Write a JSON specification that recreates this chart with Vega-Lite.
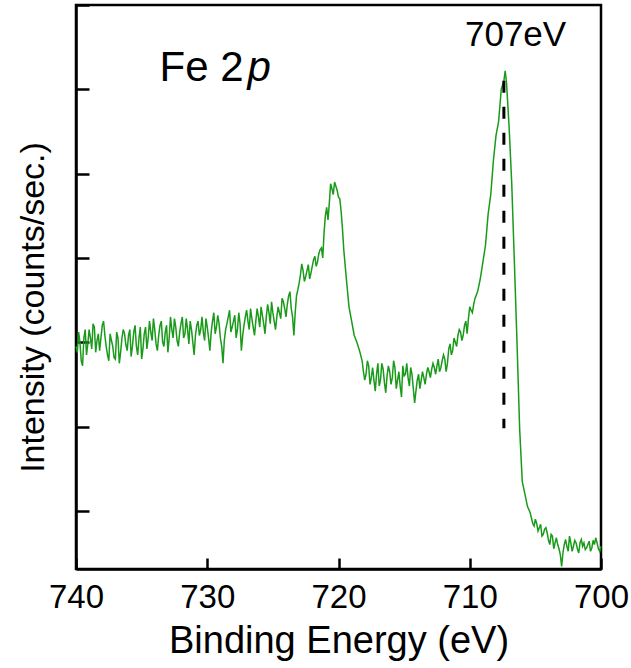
{
  "$schema": "https://vega.github.io/schema/vega-lite/v6.json",
  "width": 525,
  "height": 564,
  "autosize": {"type": "none"},
  "padding": {"left": 76, "top": 5, "right": 30, "bottom": 99},
  "background": "white",
  "config": {
    "view": {"stroke": "black", "strokeWidth": 2.5},
    "font": "Liberation Sans"
  },
  "datasets": {
    "spectrum": [
      {"E":740.0,"v":2.95},{"E":739.8,"v":3.12},{"E":739.6,"v":2.78},{"E":739.4,"v":3.05},{"E":739.2,"v":2.85},
      {"E":739.0,"v":3.15},{"E":738.8,"v":2.92},{"E":738.6,"v":3.18},{"E":738.4,"v":3.02},{"E":738.2,"v":2.90},
      {"E":738.0,"v":3.20},{"E":737.8,"v":3.08},{"E":737.6,"v":2.85},{"E":737.4,"v":3.10},{"E":737.2,"v":2.95},
      {"E":737.0,"v":2.80},{"E":736.8,"v":3.05},{"E":736.6,"v":2.88},{"E":736.4,"v":3.15},{"E":736.2,"v":2.97},
      {"E":736.0,"v":3.08},{"E":735.8,"v":2.83},{"E":735.6,"v":3.12},{"E":735.4,"v":2.95},{"E":735.2,"v":3.05},
      {"E":735.0,"v":2.80},{"E":734.8,"v":3.10},{"E":734.6,"v":2.92},{"E":734.4,"v":3.25},{"E":734.2,"v":3.02},
      {"E":734.0,"v":3.15},{"E":733.8,"v":2.90},{"E":733.6,"v":3.20},{"E":733.4,"v":3.00},{"E":733.2,"v":3.12},
      {"E":733.0,"v":2.88},{"E":732.8,"v":3.30},{"E":732.6,"v":3.05},{"E":732.4,"v":3.18},{"E":732.2,"v":2.95},
      {"E":732.0,"v":3.22},{"E":731.8,"v":3.05},{"E":731.6,"v":3.28},{"E":731.4,"v":2.98},{"E":731.2,"v":3.15},
      {"E":731.0,"v":2.85},{"E":730.8,"v":3.20},{"E":730.6,"v":3.08},{"E":730.4,"v":3.30},{"E":730.2,"v":3.02},
      {"E":730.0,"v":3.18},{"E":729.8,"v":2.90},{"E":729.6,"v":3.25},{"E":729.4,"v":3.10},{"E":729.2,"v":3.32},
      {"E":729.0,"v":3.05},{"E":728.8,"v":2.75},{"E":728.6,"v":3.15},{"E":728.4,"v":3.30},{"E":728.2,"v":3.12},
      {"E":728.0,"v":3.25},{"E":727.8,"v":3.05},{"E":727.6,"v":3.35},{"E":727.4,"v":2.90},{"E":727.2,"v":3.20},
      {"E":727.0,"v":3.38},{"E":726.8,"v":3.15},{"E":726.6,"v":3.28},{"E":726.4,"v":3.08},{"E":726.2,"v":3.40},
      {"E":726.0,"v":3.18},{"E":725.8,"v":3.32},{"E":725.6,"v":3.10},{"E":725.4,"v":3.45},{"E":725.2,"v":3.22},
      {"E":725.0,"v":3.35},{"E":724.8,"v":3.15},{"E":724.6,"v":3.42},{"E":724.4,"v":3.28},{"E":724.2,"v":3.48},
      {"E":724.0,"v":3.30},{"E":723.8,"v":3.55},{"E":723.6,"v":3.40},{"E":723.4,"v":3.08},{"E":723.2,"v":3.55},
      {"E":723.0,"v":3.70},{"E":722.8,"v":3.93},{"E":722.6,"v":3.72},{"E":722.4,"v":3.85},{"E":722.2,"v":3.75},
      {"E":722.0,"v":3.90},{"E":721.8,"v":4.02},{"E":721.6,"v":3.95},{"E":721.4,"v":4.10},{"E":721.2,"v":4.00},
      {"E":721.0,"v":4.50},{"E":720.8,"v":4.45},{"E":720.6,"v":4.88},{"E":720.4,"v":4.75},{"E":720.2,"v":4.85},
      {"E":720.0,"v":4.72},{"E":719.8,"v":4.55},{"E":719.6,"v":4.10},{"E":719.4,"v":3.75},{"E":719.2,"v":3.42},
      {"E":719.0,"v":3.25},{"E":718.8,"v":3.08},{"E":718.6,"v":3.00},{"E":718.4,"v":2.90},{"E":718.2,"v":2.78},
      {"E":718.0,"v":2.55},{"E":717.8,"v":2.78},{"E":717.6,"v":2.50},{"E":717.4,"v":2.70},{"E":717.2,"v":2.42},
      {"E":717.0,"v":2.75},{"E":716.8,"v":2.55},{"E":716.6,"v":2.68},{"E":716.4,"v":2.40},{"E":716.2,"v":2.72},
      {"E":716.0,"v":2.50},{"E":715.8,"v":2.78},{"E":715.6,"v":2.45},{"E":715.4,"v":2.65},{"E":715.2,"v":2.35},
      {"E":715.0,"v":2.60},{"E":714.8,"v":2.75},{"E":714.6,"v":2.48},{"E":714.4,"v":2.62},{"E":714.2,"v":2.28},
      {"E":714.0,"v":2.55},{"E":713.8,"v":2.45},{"E":713.6,"v":2.65},{"E":713.4,"v":2.50},{"E":713.2,"v":2.70},
      {"E":713.0,"v":2.58},{"E":712.8,"v":2.75},{"E":712.6,"v":2.62},{"E":712.4,"v":2.80},{"E":712.2,"v":2.70},
      {"E":712.0,"v":2.85},{"E":711.8,"v":2.65},{"E":711.6,"v":2.92},{"E":711.4,"v":2.85},{"E":711.2,"v":3.05},
      {"E":711.0,"v":2.95},{"E":710.8,"v":3.15},{"E":710.6,"v":3.02},{"E":710.4,"v":3.20},{"E":710.2,"v":3.10},
      {"E":710.0,"v":3.42},{"E":709.8,"v":3.35},{"E":709.6,"v":3.52},{"E":709.4,"v":3.60},{"E":709.2,"v":3.75},
      {"E":709.0,"v":3.95},{"E":708.8,"v":4.15},{"E":708.6,"v":4.52},{"E":708.4,"v":4.75},{"E":708.2,"v":5.15},
      {"E":708.0,"v":5.45},{"E":707.8,"v":5.62},{"E":707.6,"v":6.00},{"E":707.4,"v":6.10},{"E":707.3,"v":6.22},
      {"E":707.2,"v":6.08},{"E":707.0,"v":5.55},{"E":706.8,"v":4.88},{"E":706.6,"v":3.95},{"E":706.4,"v":3.00},
      {"E":706.2,"v":1.98},{"E":706.0,"v":1.35},{"E":705.8,"v":1.20},{"E":705.6,"v":1.05},{"E":705.4,"v":0.98},
      {"E":705.2,"v":0.85},{"E":705.0,"v":0.90},{"E":704.8,"v":0.76},{"E":704.6,"v":0.84},{"E":704.4,"v":0.72},
      {"E":704.2,"v":0.80},{"E":704.0,"v":0.65},{"E":703.8,"v":0.72},{"E":703.6,"v":0.55},{"E":703.4,"v":0.68},
      {"E":703.2,"v":0.55},{"E":703.0,"v":0.34},{"E":702.8,"v":0.60},{"E":702.6,"v":0.58},{"E":702.4,"v":0.70},
      {"E":702.2,"v":0.52},{"E":702.0,"v":0.65},{"E":701.8,"v":0.55},{"E":701.6,"v":0.62},{"E":701.4,"v":0.58},
      {"E":701.2,"v":0.54},{"E":701.0,"v":0.60},{"E":700.8,"v":0.52},{"E":700.6,"v":0.65},{"E":700.4,"v":0.68},
      {"E":700.2,"v":0.55},{"E":700.0,"v":0.58},
      {"E":739.9,"v":2.88},{"E":739.7,"v":3.00},{"E":739.5,"v":2.72},{"E":739.3,"v":3.15},{"E":739.1,"v":2.98},
      {"E":738.9,"v":3.05},{"E":738.7,"v":3.22},{"E":738.5,"v":2.88},{"E":738.3,"v":3.10},{"E":738.1,"v":3.05},
      {"E":737.9,"v":3.25},{"E":737.7,"v":2.95},{"E":737.5,"v":2.78},{"E":737.3,"v":3.02},{"E":737.1,"v":2.82},
      {"E":736.9,"v":3.12},{"E":736.7,"v":2.75},{"E":736.5,"v":3.05},{"E":736.3,"v":3.10},{"E":736.1,"v":2.90},
      {"E":735.9,"v":3.15},{"E":735.7,"v":2.95},{"E":735.5,"v":3.20},{"E":735.3,"v":2.85},{"E":735.1,"v":3.18},
      {"E":734.9,"v":2.92},{"E":734.7,"v":3.18},{"E":734.5,"v":3.05},{"E":734.3,"v":3.12},{"E":734.1,"v":3.28},
      {"E":733.9,"v":2.98},{"E":733.7,"v":3.08},{"E":733.5,"v":3.25},{"E":733.3,"v":2.95},{"E":733.1,"v":3.20},
      {"E":732.9,"v":3.05},{"E":732.7,"v":3.15},{"E":732.5,"v":3.28},{"E":732.3,"v":3.02},{"E":732.1,"v":3.12},
      {"E":731.9,"v":3.30},{"E":731.7,"v":3.10},{"E":731.5,"v":3.15},{"E":731.3,"v":3.25},{"E":731.1,"v":3.00},
      {"E":730.9,"v":3.08},{"E":730.7,"v":3.25},{"E":730.5,"v":3.15},{"E":730.3,"v":3.12},{"E":730.1,"v":3.28},
      {"E":729.9,"v":3.05},{"E":729.7,"v":3.12},{"E":729.5,"v":3.35},{"E":729.3,"v":3.18},{"E":729.1,"v":3.22},
      {"E":728.9,"v":2.95},{"E":728.7,"v":3.02},{"E":728.5,"v":3.22},{"E":728.3,"v":3.38},{"E":728.1,"v":3.18},
      {"E":727.9,"v":3.32},{"E":727.7,"v":3.15},{"E":727.5,"v":3.22},{"E":727.3,"v":3.08},{"E":727.1,"v":3.30},
      {"E":726.9,"v":3.25},{"E":726.7,"v":3.40},{"E":726.5,"v":3.18},{"E":726.3,"v":3.25},{"E":726.1,"v":3.30},
      {"E":725.9,"v":3.42},{"E":725.7,"v":3.22},{"E":725.5,"v":3.30},{"E":725.3,"v":3.35},{"E":725.1,"v":3.48},
      {"E":724.9,"v":3.25},{"E":724.7,"v":3.30},{"E":724.5,"v":3.35},{"E":724.3,"v":3.52},{"E":724.1,"v":3.40},
      {"E":723.9,"v":3.45},{"E":723.7,"v":3.60},{"E":723.5,"v":3.30},{"E":723.3,"v":3.35},{"E":723.1,"v":3.62},
      {"E":722.9,"v":3.80},{"E":722.7,"v":3.85},{"E":722.5,"v":3.78},{"E":722.3,"v":3.92},{"E":722.1,"v":3.82},
      {"E":721.9,"v":3.98},{"E":721.7,"v":3.90},{"E":721.5,"v":4.05},{"E":721.3,"v":4.12},{"E":721.1,"v":4.30},
      {"E":720.9,"v":4.60},{"E":720.7,"v":4.65},{"E":720.5,"v":4.82},{"E":720.3,"v":4.90},{"E":720.1,"v":4.80},
      {"E":719.9,"v":4.70},{"E":719.7,"v":4.35},
      {"E":718.1,"v":2.65},{"E":717.9,"v":2.62},{"E":717.7,"v":2.72},{"E":717.5,"v":2.58},{"E":717.3,"v":2.55},
      {"E":717.1,"v":2.62},{"E":716.9,"v":2.48},{"E":716.7,"v":2.75},{"E":716.5,"v":2.52},{"E":716.3,"v":2.60},
      {"E":716.1,"v":2.65},{"E":715.9,"v":2.58},{"E":715.7,"v":2.70},{"E":715.5,"v":2.55},{"E":715.3,"v":2.48},
      {"E":715.1,"v":2.72},{"E":714.9,"v":2.62},{"E":714.7,"v":2.58},{"E":714.5,"v":2.70},{"E":714.3,"v":2.45},
      {"E":714.1,"v":2.42},{"E":713.9,"v":2.62},{"E":713.7,"v":2.55},{"E":713.5,"v":2.58},{"E":713.3,"v":2.62},
      {"E":713.1,"v":2.65},{"E":712.9,"v":2.68},{"E":712.7,"v":2.70},{"E":712.5,"v":2.72},{"E":712.3,"v":2.65},
      {"E":712.1,"v":2.78},{"E":711.9,"v":2.80},{"E":711.7,"v":2.75},{"E":711.5,"v":2.98},{"E":711.3,"v":2.90},
      {"E":711.1,"v":3.00},{"E":710.9,"v":3.08},{"E":710.7,"v":3.12},{"E":710.5,"v":3.08},{"E":710.3,"v":3.25},
      {"E":710.1,"v":3.28},{"E":709.9,"v":3.38},{"E":709.7,"v":3.45},
      {"E":705.1,"v":0.82},{"E":704.9,"v":0.85},{"E":704.7,"v":0.80},{"E":704.5,"v":0.70},{"E":704.3,"v":0.78},
      {"E":704.1,"v":0.74},{"E":703.9,"v":0.60},{"E":703.7,"v":0.70},{"E":703.5,"v":0.62},{"E":703.3,"v":0.60},
      {"E":703.1,"v":0.48},{"E":702.9,"v":0.50},{"E":702.7,"v":0.66},{"E":702.5,"v":0.52},{"E":702.3,"v":0.62},
      {"E":702.1,"v":0.58},{"E":701.9,"v":0.62},{"E":701.7,"v":0.50},{"E":701.5,"v":0.66},{"E":701.3,"v":0.62},
      {"E":701.1,"v":0.56},{"E":700.9,"v":0.64},{"E":700.7,"v":0.56},{"E":700.5,"v":0.60},{"E":700.3,"v":0.62},
      {"E":700.1,"v":0.52}
    ],
    "marker": [{"E": 707.4, "top": 6.1, "bottom": 1.98}],
    "feLabel": [{"E": 733.64, "v": 6.10, "text": "Fe 2"}],
    "pLabel": [{"E": 726.93, "v": 6.10, "text": "p"}],
    "peakLabel": [{"E": 706.51, "v": 6.51, "text": "707eV"}]
  },
  "layer": [
    {
      "data": {"name": "spectrum"},
      "mark": {"type": "line", "color": "#1a9a1a", "strokeWidth": 1.5},
      "encoding": {
        "x": {
          "field": "E", "type": "quantitative",
          "scale": {"domain": [700, 740], "reverse": true, "nice": false, "zero": false},
          "axis": {
            "values": [700, 710, 720, 730, 740],
            "grid": false,
            "tickSize": -11, "tickWidth": 2.5, "tickColor": "black",
            "domainWidth": 2.5, "domainColor": "black",
            "labelFontSize": 33, "labelPadding": 23, "labelColor": "black",
            "labelFlush": false, "labelOverlap": false, "labelFont": "Liberation Sans",
            "title": "Binding Energy (eV)", "titleFontSize": 38, "titleFontWeight": "normal",
            "titleColor": "black", "titlePadding": 8, "titleFont": "Liberation Sans"
          }
        },
        "y": {
          "field": "v", "type": "quantitative",
          "scale": {"domain": [0.31, 7.0], "nice": false, "zero": false},
          "axis": {
            "values": [1, 2, 3, 4, 5, 6, 7],
            "grid": false, "labels": false,
            "tickSize": -13, "tickWidth": 2.5, "tickColor": "black",
            "domainWidth": 2.5, "domainColor": "black",
            "title": "Intensity (counts/sec.)", "titleFontSize": 34, "titleFontWeight": "normal",
            "titleColor": "black", "titleFont": "Liberation Sans",
            "titleX": -33, "titleY": 302, "titleBaseline": "alphabetic", "titleAngle": -90
          }
        }
      }
    },
    {
      "data": {"name": "marker"},
      "mark": {"type": "rule", "color": "black", "strokeWidth": 3, "strokeDash": [12, 14]},
      "encoding": {
        "x": {"field": "E", "type": "quantitative"},
        "y": {"field": "top", "type": "quantitative"},
        "y2": {"field": "bottom"}
      }
    },
    {
      "data": {"name": "feLabel"},
      "mark": {"type": "text", "baseline": "alphabetic", "align": "left", "color": "black", "font": "Liberation Sans", "fontSize": 42},
      "encoding": {
        "x": {"field": "E", "type": "quantitative"},
        "y": {"field": "v", "type": "quantitative"},
        "text": {"field": "text"}
      }
    },
    {
      "data": {"name": "pLabel"},
      "mark": {"type": "text", "baseline": "alphabetic", "align": "left", "color": "black", "font": "Liberation Sans", "fontSize": 42, "fontStyle": "italic"},
      "encoding": {
        "x": {"field": "E", "type": "quantitative"},
        "y": {"field": "v", "type": "quantitative"},
        "text": {"field": "text"}
      }
    },
    {
      "data": {"name": "peakLabel"},
      "mark": {"type": "text", "baseline": "alphabetic", "align": "center", "color": "black", "font": "Liberation Sans", "fontSize": 35},
      "encoding": {
        "x": {"field": "E", "type": "quantitative"},
        "y": {"field": "v", "type": "quantitative"},
        "text": {"field": "text"}
      }
    }
  ]
}
